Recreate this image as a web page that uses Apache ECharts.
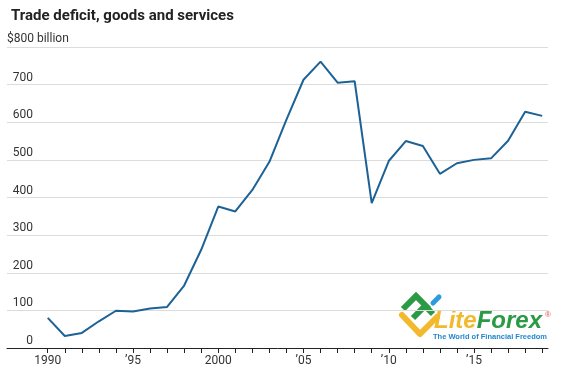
<!DOCTYPE html>
<html>
<head>
<meta charset="utf-8">
<script src="https://cdn.jsdelivr.net/npm/echarts@6/dist/echarts.min.js"></script>
<style>
    html, body { margin: 0; padding: 0; background: #fff; }
    #chart { width: 565px; height: 376px; }
</style>
</head>
<body>
<div id="chart"></div>
<script>
// trade deficit, goods and services, $ billion
var years = [1990, 1991, 1992, 1993, 1994, 1995, 1996, 1997, 1998, 1999,
    2000, 2001, 2002, 2003, 2004, 2005, 2006, 2007, 2008, 2009,
    2010, 2011, 2012, 2013, 2014, 2015, 2016, 2017, 2018, 2019];
var deficit = [80, 32, 40, 71, 99, 97, 105, 109, 166, 261,
    376, 363, 420, 495, 607, 713, 761, 705, 709, 385,
    497, 550, 537, 463, 491, 500, 504, 551, 628, 617];
var labelYears = [1990, 1995, 2000, 2005, 2010, 2015];

var font = 'Roboto, "Noto Sans", sans-serif';
var textColor = '#333';

var chart = echarts.init(document.getElementById('chart'));

function yearLabel(v) {
    // full year for 1990 and 2000, short form for the rest
    if (v === 1990 || v === 2000) {
        return String(v);
    }
    return '\u2019' + String(v).slice(2);
}

var option = {
    animation: false,
    title: {
        text: 'Trade deficit, goods and services',
        left: 6,
        top: 4,
        textStyle: {
            fontFamily: font,
            fontSize: 15,
            fontWeight: 'bold',
            color: '#222'
        }
    },
    grid: {
        left: 7,
        right: 17,
        top: 47,
        bottom: 28
    },
    xAxis: {
        type: 'value',
        min: 1987.61,
        max: 2019.34,
        splitLine: { show: false },
        axisLine: { lineStyle: { color: '#222', width: 1 } },
        axisTick: {
            show: true,
            length: 5,
            customValues: years,
            lineStyle: { color: '#222' }
        },
        axisLabel: {
            customValues: labelYears,
            margin: 7,
            fontFamily: font,
            fontSize: 12,
            color: textColor,
            formatter: function (v) {
                return yearLabel(v);
            }
        }
    },
    yAxis: {
        type: 'value',
        min: 0,
        max: 800,
        interval: 100,
        name: '$800 billion',
        nameLocation: 'end',
        nameGap: 2,
        nameTextStyle: {
            align: 'left',
            verticalAlign: 'bottom',
            fontFamily: font,
            fontSize: 12,
            color: textColor
        },
        axisLine: { show: false },
        axisTick: { show: false },
        splitLine: { lineStyle: { color: '#dcdcdc', width: 1 } },
        axisLabel: {
            inside: true,
            margin: 26,
            align: 'right',
            verticalAlign: 'bottom',
            padding: [0, 0, 1, 0],
            fontFamily: font,
            fontSize: 12,
            color: textColor,
            formatter: function (v) {
                return v === 800 ? '' : String(v);
            }
        }
    },
    series: [{
        type: 'line',
        data: years.map(function (y, i) { return [y, deficit[i]]; }),
        showSymbol: false,
        lineStyle: { color: '#1d6296', width: 2 },
        z: 3
    }],
    graphic: [
        // LiteForex watermark
        {
            type: 'group',
            left: 399,
            top: 293,
            children: [
                { type: 'polyline', shape: { points: [[3, 22], [21, 41], [38, 24]] },
                    style: { stroke: '#f2b92c', lineWidth: 6, fill: null, lineCap: 'round', lineJoin: 'round' } },
                { type: 'polyline', shape: { points: [[4, 16], [17, 3], [30, 16]] },
                    style: { stroke: '#2b9a45', lineWidth: 6, fill: null, lineCap: 'butt', lineJoin: 'miter' } },
                { type: 'polyline', shape: { points: [[14, 25], [26, 13], [34, 21]] },
                    style: { stroke: '#2b9a45', lineWidth: 6, fill: null, lineCap: 'butt', lineJoin: 'miter' } },
                { type: 'line', shape: { x1: 34, y1: 10, x2: 40, y2: 4 },
                    style: { stroke: '#2d9be0', lineWidth: 5, lineCap: 'round' } }
            ]
        },
        {
            type: 'text',
            left: 434,
            top: 309,
            style: {
                text: '{a|Lite}{b|Forex}',
                rich: {
                    a: { fontFamily: '"Liberation Sans", Arial, sans-serif', fontSize: 24, fontWeight: 'bold', fontStyle: 'italic', fill: '#f2b92c' },
                    b: { fontFamily: '"Liberation Sans", Arial, sans-serif', fontSize: 24, fontWeight: 'bold', fontStyle: 'italic', fill: '#2b9a45' }
                }
            }
        },
        {
            type: 'text',
            left: 545,
            top: 311,
            style: { text: '\u00ae', fontSize: 8, fill: '#e05050' }
        },
        {
            type: 'text',
            left: 433,
            top: 333,
            style: {
                text: 'The World of Financial Freedom',
                fontFamily: '"Liberation Sans", Arial, sans-serif',
                fontSize: 7.5,
                fontWeight: 'bold',
                fill: '#2288cc'
            }
        }
    ]
};

chart.setOption(option);
</script>
</body>
</html>
